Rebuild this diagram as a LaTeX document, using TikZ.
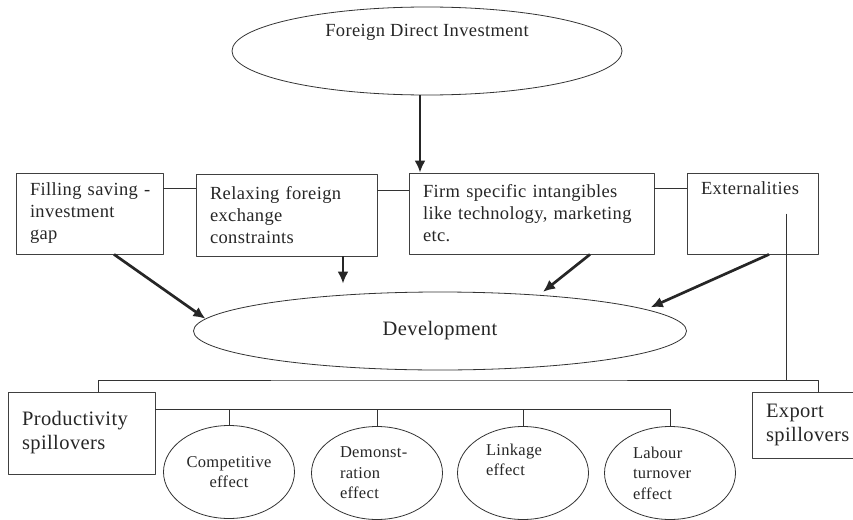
\documentclass[tikz,border=0pt]{standalone}
\usepackage{fontspec}
\setmainfont{Liberation Serif}[LetterSpace=2]
\usetikzlibrary{shapes.geometric, arrows.meta}

\begin{document}
\begin{tikzpicture}[x=1pt, y=-1pt, line join=round,
  every node/.style={text=black!85},
  box/.style={draw=black!75, line width=0.8pt, rectangle, align=left,
    inner xsep=14pt, inner ysep=0pt},
  oval/.style={draw=black!80, line width=0.8pt, ellipse, inner sep=0pt},
  effect/.style={oval, smallfont, minimum width=131pt, minimum height=93pt},
  link/.style={draw=black!80, line width=0.8pt},
  arr/.style={draw=black!85, line width=2.7pt, -{Latex[length=12pt,width=11pt]}},
  boxfont/.style={font=\fontsize{18.5}{22}\selectfont},
  bigfont/.style={font=\fontsize{20.5}{24}\selectfont},
  smallfont/.style={font=\fontsize{16.5}{20.5}\selectfont}]

  \useasboundingbox (0,0) rectangle (853,519);

  % FDI
  \node [oval, minimum width=390pt, minimum height=88pt,
    label={[boxfont, yshift=19pt]center:Foreign Direct Investment}] (fdi) at (427,51) {};

  % Channels
  \node [box, boxfont, text width=119pt, minimum height=81pt] (gap) at (89.5,213.5)
    {\mbox{Filling saving -}\\investment\\gap};
  \node [box, boxfont, text width=153pt, minimum height=82pt] (relax) at (286.5,215)
    {Relaxing foreign\\exchange\\constraints};
  \node [box, boxfont, text width=217pt, minimum height=81pt] (firm) at (531.5,213.5)
    {Firm specific intangibles\\like technology, marketing\\etc.};
  \node [box, boxfont, text width=103pt, minimum height=81pt] (ext) at (752.5,213.5)
    {Externalities\\\strut\\\strut};

  % Development
  \node [oval, bigfont, minimum width=493pt, minimum height=78pt] (dev) at (440,331) {Development};

  % Spillovers
  \node [box, bigfont, text width=119pt, minimum height=82pt] (prod) at (81.5,433)
    {Productivity\\spillovers};
  \node [box, bigfont, text width=100pt, minimum height=66pt] (export) at (816,425)
    {Export\\spillovers};

  % Effects
  \node [effect, text width=90pt, align=center] (comp) at (229,472) {Competitive\\effect};
  \node [effect, text width=74pt, align=left] (demo) at (377,473) {Demonst-\\ration\\effect};
  \node [effect, text width=74pt, align=left] (linkage) at (523,473) {Linkage\\effect\\\strut};
  \node [effect, text width=74pt, align=left] (labour) at (670,473) {Labour\\turnover\\effect};

  % FDI to firm specific intangibles
  \draw [arr] ([xshift=-7pt]fdi.south) -- ([xshift=-7pt]fdi.south |- firm.north);

  % Links between channels
  \foreach \a/\b in {gap/relax, relax/firm, firm/ext}
    \draw [link] ([yshift=25pt]\a.east) -- ([yshift=25pt]\a.east -| \b.west);

  % Channels to development
  \draw [arr] ([xshift=24.5pt]gap.south) -- (dev.177);
  \draw [arr, shorten >=8pt] ([xshift=56.5pt]relax.south) -- ([xshift=56.5pt]relax.south |- dev.north);
  \draw [arr, shorten >=5pt] ([xshift=58.5pt]firm.south) -- (dev.20);
  \draw [arr, shorten >=5pt] ([xshift=16.5pt]ext.south) -- (dev.6);

  % Externalities to spillovers
  \coordinate (bus) at (440,380);
  \coordinate (extdrop) at ([xshift=33.5pt]ext.center);
  \draw [link] (extdrop) -- (extdrop |- bus);
  \draw [link] ([xshift=16.5pt]prod.north) |- (bus) -| ([xshift=2pt]export.north);

  % Productivity spillovers to effects
  \coordinate (pbus) at ([yshift=24pt]prod.east);
  \draw [link] (pbus) -- (pbus -| labour.north);
  \foreach \e in {comp, demo, linkage, labour}
    \draw [link] (\e.north) -- (\e.north |- pbus);

\end{tikzpicture}
\end{document}
